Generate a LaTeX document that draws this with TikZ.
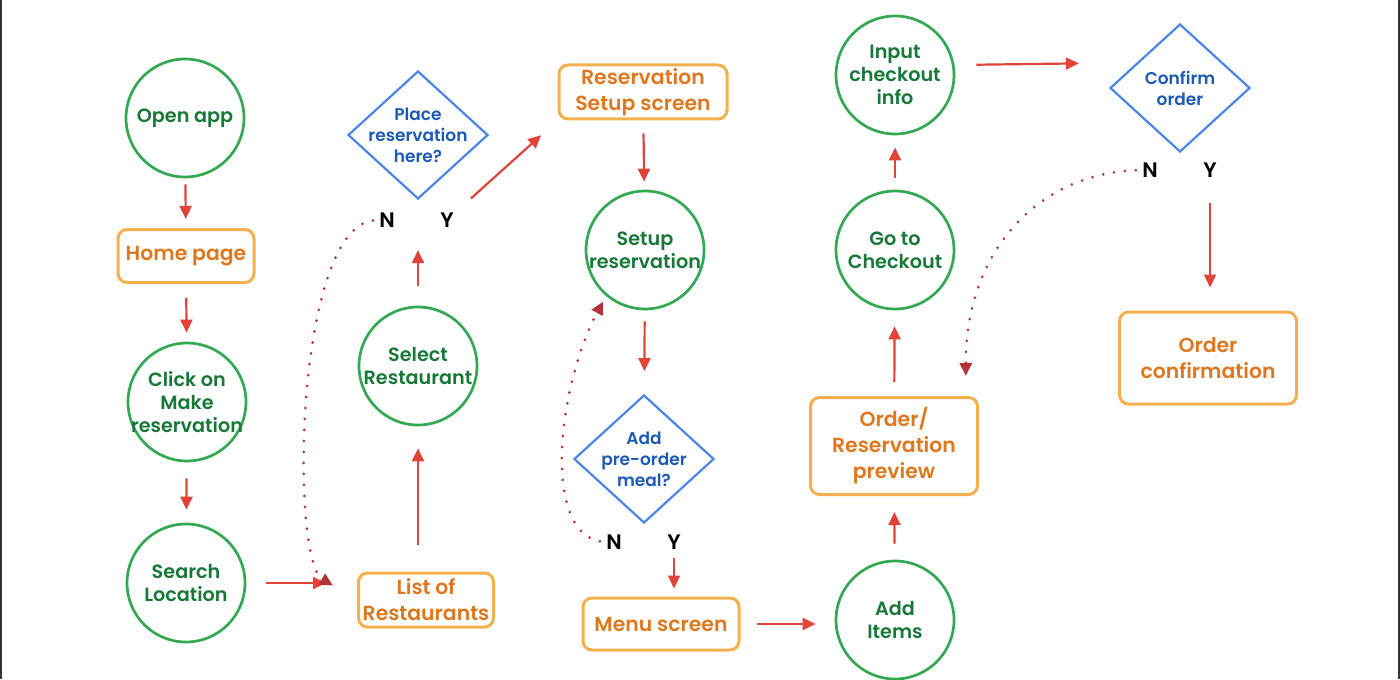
\documentclass[tikz,border=0pt]{standalone}
\usepackage{fontspec}
\setmainfont{Poppins}[BoldFont={Poppins SemiBold}]
\usetikzlibrary{shapes.geometric,arrows.meta}

\definecolor{stepgreen}{RGB}{52,168,83}
\definecolor{stepgreentext}{RGB}{24,120,56}
\definecolor{screenorange}{RGB}{244,176,78}
\definecolor{screenorangetext}{RGB}{222,120,30}
\definecolor{askblue}{RGB}{74,134,232}
\definecolor{askbluetext}{RGB}{28,90,180}
\definecolor{flowred}{RGB}{222,68,56}
\definecolor{loopred}{RGB}{180,50,56}

\tikzset{
  stepnode/.style={circle, draw=stepgreen, line width=1.35pt, minimum size=59pt, inner sep=-20pt, align=center, text=stepgreentext, font=\bfseries\fontsize{9.6}{11.5}\selectfont},
  screennode/.style={rounded corners=4.5pt, draw=screenorange, line width=1.5pt, inner sep=0pt, align=center, text=screenorangetext, font=\bfseries\fontsize{10.2}{13}\selectfont},
  asknode/.style={diamond, draw=askblue, line width=1.1pt, minimum width=70pt, minimum height=64pt, inner sep=0pt},
  asktext/.style={align=center, text=askbluetext, font=\bfseries\fontsize{8.5}{10.5}\selectfont},
  answer/.style={font=\bfseries\fontsize{10.5}{12}\selectfont, inner sep=1pt},
  flow/.style={draw=flowred, line width=1.1pt, -{Triangle[length=6.5pt,width=6pt]}},
  loopback/.style={draw=loopred, line width=1.5pt, line cap=round, dash pattern=on 0pt off 5.5pt, -{Triangle[length=6.5pt,width=6pt]}},
}

\begin{document}
\begin{tikzpicture}[x=0.5pt,y=0.5pt,yscale=-1,xscale=1]
\useasboundingbox (0,0) rectangle (1400,679);

%Side rules
\draw [line width=0.9pt, black!80] (1,0) -- (1,679);
\draw [line width=0.9pt, black!80] (1399,0) -- (1399,679);

%Column 1
\node [stepnode] (open) at (185,118) {Open app};
\node [screennode, minimum width=68pt, minimum height=26.5pt] (home) at (186,256) {Home page};
\node [stepnode] (click) at (187,402) {Click on\\Make\\reservation};
\node [stepnode] (search) at (186,583) {Search\\Location};

%Column 2
\node [screennode, minimum width=67.5pt, minimum height=27pt] (list) at (426,600) {List of\\Restaurants};
\node [stepnode] (select) at (418,366) {Select\\Restaurant};
\node [asknode] (place) at (418,135) {};
\node [asktext] at (place) {Place\\reservation\\here?};
\node [answer] (placeN) at (387,220) {N};
\node [answer] (placeY) at (447,220) {Y};

%Column 3
\node [screennode, minimum width=84pt, minimum height=27pt] (resv) at (643,92) {Reservation\\Setup screen};
\node [stepnode] (setup) at (645,250) {Setup\\reservation};
\node [asknode] (meal) at (644,459) {};
\node [asktext] at (meal) {Add\\pre-order\\meal?};
\node [answer] (mealN) at (614,542) {N};
\node [answer] (mealY) at (674,542) {Y};
\node [screennode, minimum width=78pt, minimum height=26pt] (menu) at (661,624) {Menu screen};

%Column 4
\node [stepnode] (items) at (895,620) {Add\\Items};
\node [screennode, minimum width=83.5pt, minimum height=48.5pt] (preview) at (894,446) {Order/\\Reservation\\preview};
\node [stepnode] (checkout) at (895,250) {Go to\\Checkout};
\node [stepnode] (input) at (895,75) {Input\\checkout\\info};

%Column 5
\node [asknode] (confirm) at (1180,88) {};
\node [asktext] at (confirm) {Confirm\\order};
\node [answer] (confirmN) at (1150,170) {N};
\node [answer] (confirmY) at (1210,170) {Y};
\node [screennode, minimum width=88.5pt, minimum height=46pt] (done) at (1208,358) {Order\\confirmation};
\coordinate (previewin) at ([xshift=-6.5pt]preview.north east);

%Straight Lines
\draw [flow, shorten <=3pt, shorten >=4.5pt] (open) -- (home);
\draw [flow, shorten <=7pt, shorten >=4.5pt] (home) -- (click);
\draw [flow, shorten <=8pt, shorten >=6.5pt] (click) -- (search);
\draw [flow, shorten <=10pt, shorten >=15.5pt] (search.east) -- (search.east -| list.west);
\draw [flow, shorten <=13.5pt, shorten >=11pt] (list.north -| select.south) -- (select.south);
\draw [flow, shorten <=10pt, shorten >=25pt] (select) -- (place);
\draw [flow, shorten <=10pt, shorten >=11pt] (placeY) -- (resv.south west);
\draw [flow, shorten <=6.5pt, shorten >=4pt] (resv) -- (setup);
\draw [flow, shorten <=5.5pt, shorten >=11.5pt] (setup) -- (meal);
\draw [flow, shorten <=3pt, shorten >=4pt] (mealY.south) -- (mealY.south |- menu.north);
\draw [flow, shorten <=8pt, shorten >=9.5pt] (menu.east) -- (menu.east -| items.west);
\draw [flow, shorten <=8pt, shorten >=8pt] (items) -- (preview);
\draw [flow, shorten <=7pt, shorten >=8pt] (preview) -- (checkout);
\draw [flow, shorten <=6pt, shorten >=6pt] (checkout) -- (input);
\draw [flow, shorten <=10.5pt, shorten >=15pt] ([yshift=-5pt]input.east) -- ([yshift=-12.5pt]confirm.west);
\draw [flow, shorten <=11.5pt, shorten >=11.5pt] (confirmY.south) -- (confirmY.south |- done.north);

%Dotted curves
\draw [loopback, shorten <=2pt, shorten >=14pt] (placeN.west) .. controls (295,230) and (290,560) .. (list.west);
\draw [loopback, shorten <=2pt, shorten >=3pt] (mealN.west) .. controls (540,530) and (560,380) .. (setup.-130);
\draw [loopback, shorten <=2pt, shorten >=10pt] (confirmN.west) .. controls (1030,175) and (965,260) .. (previewin);

\end{tikzpicture}
\end{document}
